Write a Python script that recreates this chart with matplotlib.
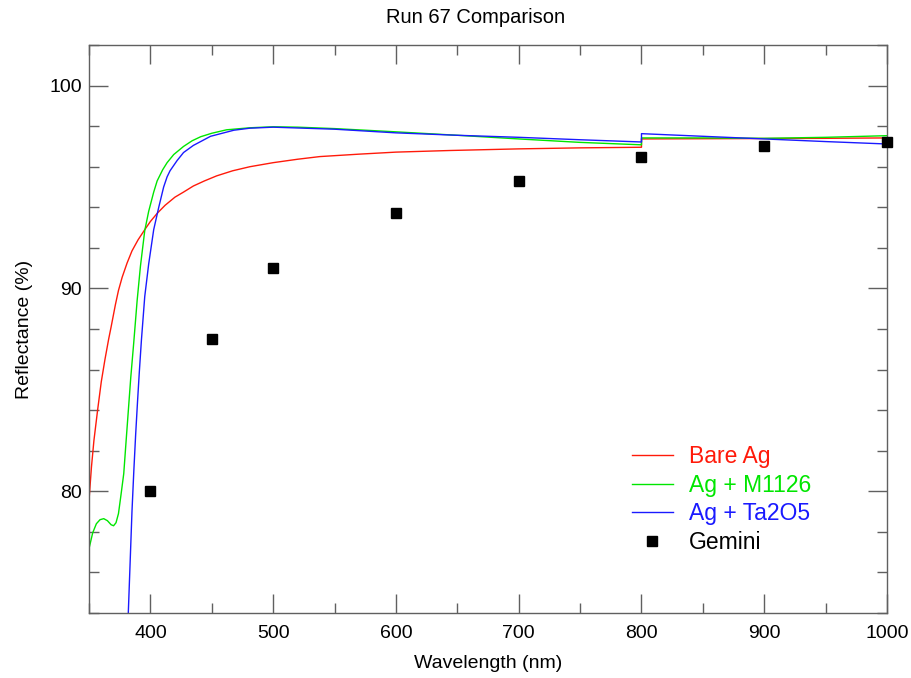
import matplotlib
matplotlib.use("Agg")
import matplotlib.pyplot as plt
from matplotlib.ticker import MultipleLocator

plt.rcParams['font.family'] = ['Liberation Sans', 'DejaVu Sans']

# Bare silver
bare_wl = [350, 352, 354, 357, 360, 363, 366, 368, 371.5, 374, 377, 381,
           385, 390, 396, 400, 405.5, 412, 420, 427, 435, 444, 454, 467,
           481, 500, 520, 538, 570, 600, 644, 700, 750, 800,
           800, 850, 900, 950, 1000]
bare_r = [79.55, 81.2, 82.5, 84.0, 85.4, 86.5, 87.5, 88.1, 89.2, 89.9,
          90.55, 91.25, 91.85, 92.4, 92.95, 93.3, 93.7, 94.1, 94.5, 94.75,
          95.05, 95.3, 95.55, 95.8, 96.0, 96.2, 96.37, 96.5, 96.62, 96.72,
          96.8, 96.88, 96.93, 96.96,
          97.37, 97.38, 97.39, 97.40, 97.42]

# Silver + M1126 overcoat
m1126_wl = [350, 353, 356, 359, 362, 365, 368, 370, 372, 374, 376, 378.3,
            380, 382.3, 384, 386.4, 389.2, 391.9, 395.4, 398.6, 402.7, 405.5,
            410, 413.6, 419, 427, 434, 441, 450, 462, 481, 500, 520, 550,
            600, 650, 700, 750, 800,
            800, 850, 900, 950, 1000]
m1126_r = [77.17, 77.95, 78.4, 78.6, 78.65, 78.55, 78.35, 78.3, 78.45, 78.9,
           79.8, 80.87, 82.3, 84.2, 85.6, 87.3, 89.4, 91.1, 92.85, 93.8,
           94.75, 95.3, 95.85, 96.2, 96.6, 97.0, 97.28, 97.48, 97.65, 97.82,
           97.92, 97.97, 97.95, 97.88, 97.72, 97.55, 97.37, 97.2, 97.08,
           97.42, 97.42, 97.4, 97.45, 97.53]

# Silver + Ta2O5 overcoat
ta2o5_wl = [382, 383.5, 385, 386.5, 388, 389.5, 391, 392.7, 395.4, 398.6,
            402.7, 406.8, 410.8, 413.6, 416, 421.7, 427, 435, 449, 468, 481,
            500, 550, 600, 650, 700, 750, 800,
            800, 850, 900, 950, 1000]
ta2o5_r = [74.0, 76.5, 79.0, 81.0, 82.8, 84.4, 85.9, 87.46, 89.6, 91.2,
           92.9, 94.0, 95.0, 95.5, 95.8, 96.3, 96.7, 97.05, 97.5, 97.8, 97.9,
           97.95, 97.85, 97.67, 97.55, 97.45, 97.33, 97.22,
           97.63, 97.5, 97.37, 97.24, 97.12]

# Gemini measurements
gemini_wl = [400, 450, 500, 600, 700, 800, 900, 1000]
gemini_r = [80.0, 87.5, 91.0, 93.7, 95.3, 96.5, 97.0, 97.2]

red = '#ff1a0a'
green = '#00e600'
blue = '#1a1aff'

fig = plt.figure(figsize=(9.11, 6.78), dpi=100)
ax = fig.add_axes([0.0977, 0.0959, 0.876, 0.8377])

ax.plot(bare_wl, bare_r, c=red, lw=1.0, label='Bare Ag')
ax.plot(m1126_wl, m1126_r, c=green, lw=1.0, label='Ag + M1126')
ax.plot(ta2o5_wl, ta2o5_r, c=blue, lw=1.0, label='Ag + Ta2O5')
ax.plot(gemini_wl, gemini_r, ls='none', marker='s', ms=7, c='black',
        label='Gemini', clip_on=False, zorder=5)

ax.set_xlim(350, 1000)
ax.set_ylim(74, 102)
ax.xaxis.set_major_locator(MultipleLocator(100))
ax.xaxis.set_minor_locator(MultipleLocator(50))
ax.yaxis.set_major_locator(MultipleLocator(10))
ax.yaxis.set_minor_locator(MultipleLocator(2))
ax.tick_params(which='both', direction='in', top=True, right=True,
               color='#606060', width=1.0, labelsize=14)
ax.tick_params(which='major', length=14)
ax.tick_params(which='minor', length=7)
ax.tick_params(axis='x', pad=9)
ax.tick_params(axis='y', pad=5)
for sp in ax.spines.values():
    sp.set_color('#606060')
    sp.set_linewidth(1.0)

ax.set_title('Run 67 Comparison', fontsize=14.5, pad=16, x=0.485)
ax.set_xlabel('Wavelength (nm)', fontsize=14, labelpad=9)
ax.set_ylabel('Reflectance (%)', fontsize=14, labelpad=12)

ax.legend(loc='upper left', bbox_to_anchor=(0.680, 0.295), frameon=False,
          fontsize=16.5, handlelength=1.8, handletextpad=0.7,
          labelspacing=0.24, borderpad=0, borderaxespad=0,
          labelcolor=[red, green, blue, 'black'])

fig.savefig('out.png', dpi=100)
